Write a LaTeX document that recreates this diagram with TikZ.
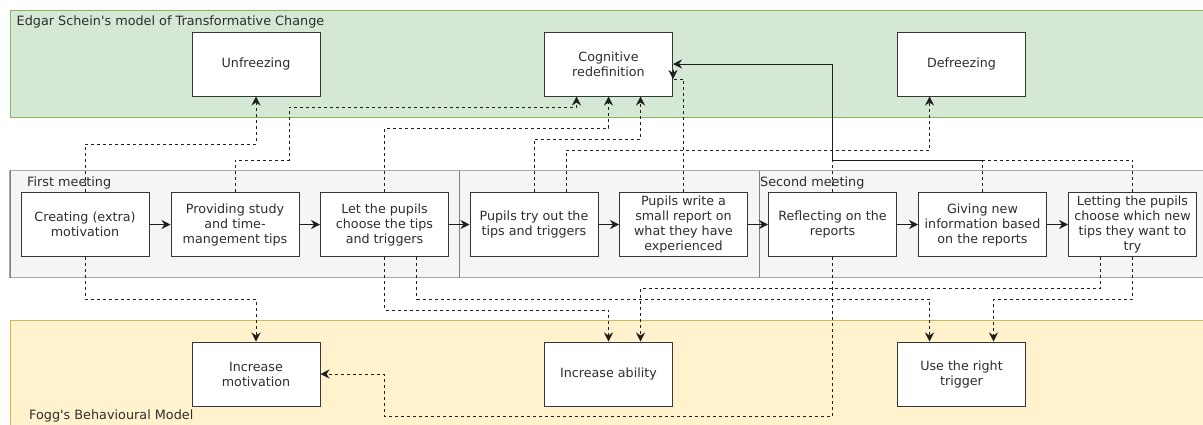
\documentclass[tikz,border=0pt]{standalone}
\usepackage{fontspec}
\setmainfont{DejaVu Sans}
\usetikzlibrary{arrows.meta,calc}
\definecolor{txt}{HTML}{2E2E2E}
\definecolor{boxline}{HTML}{363636}
\definecolor{schfill}{HTML}{D5E8D4}
\definecolor{schline}{HTML}{82B366}
\definecolor{fogfill}{HTML}{FFF2CC}
\definecolor{fogline}{HTML}{D6B656}
\definecolor{meetfill}{HTML}{F5F5F5}
\definecolor{meetline}{HTML}{A8A8A8}
\definecolor{meetsep}{HTML}{808080}
\definecolor{wire}{HTML}{1E1E1E}
\tikzset{
  lbl/.style={font=\fontsize{12.8}{15}\selectfont, text=txt, inner sep=2pt},
  stepbox/.style={draw=boxline, fill=white, line width=1pt,
    minimum width=128pt, minimum height=64pt, inner sep=0pt,
    align=center, font=\fontsize{12.7}{15}\selectfont, text=txt},
  tip/.style={-{Stealth[length=9pt,width=9pt,inset=3pt]}},
  flow/.style={tip, draw=wire, line width=1pt},
  link/.style={draw=wire, line width=1pt, dash pattern=on 3pt off 3pt},
  trunk/.style={draw=wire, line width=1pt},
}
\begin{document}
\begin{tikzpicture}[x=1pt,y=-1pt]
\clip (0,0) rectangle (1203,424);

% model bands and meeting containers
\draw[fill=schfill, draw=schline, line width=1pt] (10,10) rectangle (1215,117);
\draw[fill=fogfill, draw=fogline, line width=1pt] (10,320.5) rectangle (1215,440);
\draw[fill=meetfill, draw=meetline, line width=1.2pt] (10,170.5) rectangle (1215,277.5);
\draw[meetsep, line width=1pt] (10,170.5) -- (10,277.5);
\draw[meetsep, line width=1pt] (459,170.5) -- (459,277.5);
\draw[meetsep, line width=1pt] (759,170.5) -- (759,277.5);

\node[lbl, anchor=west] (tsch) at (14.5,21.5) {Edgar Schein\textquotesingle s model of Transformative Change};
\node[lbl, anchor=west] (tm1) at (25,182.5) {First meeting};
\node[lbl, anchor=west] (tm2) at (758,182.5) {Second meeting};
\node[lbl, anchor=west] (tfog) at (27,415.5) {Fogg\textquotesingle s Behavioural Model};

% Schein stages
\node[stepbox] (unf) at (256,64) {Unfreezing};
\node[stepbox] (cog) at (608.5,64) {Cognitive\\redefinition};
\node[stepbox] (def) at (961.5,64) {Defreezing};

% meeting activities
\node[stepbox] (b1) at (85,224.5) {Creating (extra)\\motivation};
\node[stepbox] (b2) at (235,224.5) {Providing study\\and time-\\mangement tips};
\node[stepbox] (b3) at (384.5,224.5) {Let the pupils\\choose the tips\\and triggers};
\node[stepbox] (b4) at (534,224.5) {Pupils try out the\\tips and triggers};
\node[stepbox] (b5) at (683.5,224.5) {Pupils write a\\small report on\\what they have\\experienced};
\node[stepbox] (b6) at (832.5,224.5) {Reflecting on the\\reports};
\node[stepbox] (b7) at (982.5,224.5) {Giving new\\information based\\on the reports};
\node[stepbox] (b8) at (1132.5,224.5) {Letting the pupils\\choose which new\\tips they want to\\try};

% Fogg factors
\node[stepbox] (mot) at (256,374) {Increase\\motivation};
\node[stepbox] (abl) at (608.5,374) {Increase ability};
\node[stepbox] (trg) at (961.5,374) {Use the right\\trigger};

% sequence of activities
\foreach \a/\b in {b1/b2,b2/b3,b3/b4,b4/b5,b5/b6,b6/b7,b7/b8}
  \draw[flow] (\a) -- (\b);

% activities to Schein stages
\draw[link, tip] (b1.north) -- (b1.north |- 0,144) -- (unf.south |- 0,144) -- (unf.south);
\draw[link, tip] (b2.north) -- (b2.north |- 0,160) -- (289,160) -- (289,107)
  -- ([xshift=-32pt]cog.south |- 0,107) -- ([xshift=-32pt]cog.south);
\draw[link, tip] (b3.north) -- (b3.north |- 0,128) -- (cog.south |- 0,128) -- (cog.south);
\draw[link, tip] (b4.north) -- (b4.north |- 0,139)
  -- ([xshift=32pt]cog.south |- 0,139) -- ([xshift=32pt]cog.south);
\draw[link, tip] ([xshift=32pt]b4.north) -- ([xshift=32pt]b4.north |- 0,150)
  -- ([xshift=-32pt]def.south |- 0,150) -- ([xshift=-32pt]def.south);
% report feedback ends on the right edge of the box, its tip turned downwards
\coordinate (rin) at (cog.east |- 0,79);
\draw[link] (b5.north) -- (b5.north |- rin) -- (rin);
\draw[tip, draw=wire, line width=1pt] ($(rin)+(0,-9)$) -- (rin);

% second meeting feedback into cognitive redefinition
\coordinate (j1) at (832.5,160);
\coordinate (j2) at (982.5,160);
\draw[link] (b6.north) -- (j1);
\draw[link] (b7.north) -- (j2);
\draw[link] (b8.north) -- (b8.north |- j2) -- (j2);
\draw[trunk] (j2) -- (j1);
\draw[trunk, tip] (j1) -- (j1 |- cog.east) -- (cog.east);

% activities to Fogg factors
\draw[link, tip] (b1.south) -- (b1.south |- 0,299) -- (mot.north |- 0,299) -- (mot.north);
\draw[link, tip] (b3.south) -- (b3.south |- 0,310) -- (abl.north |- 0,310) -- (abl.north);
\draw[link, tip] ([xshift=32pt]b3.south) -- ([xshift=32pt]b3.south |- 0,299)
  -- ([xshift=-32pt]trg.north |- 0,299) -- ([xshift=-32pt]trg.north);
\draw[link, tip] ([xshift=-32pt]b8.south) -- ([xshift=-32pt]b8.south |- 0,288)
  -- ([xshift=32pt]abl.north |- 0,288) -- ([xshift=32pt]abl.north);
\draw[link, tip] (b8.south) -- (b8.south |- 0,299)
  -- ([xshift=32pt]trg.north |- 0,299) -- ([xshift=32pt]trg.north);
\draw[link, tip] (b6.south) -- (b6.south |- 0,416) -- (384,416) -- (384,374) -- (mot.east);
\end{tikzpicture}
\end{document}
